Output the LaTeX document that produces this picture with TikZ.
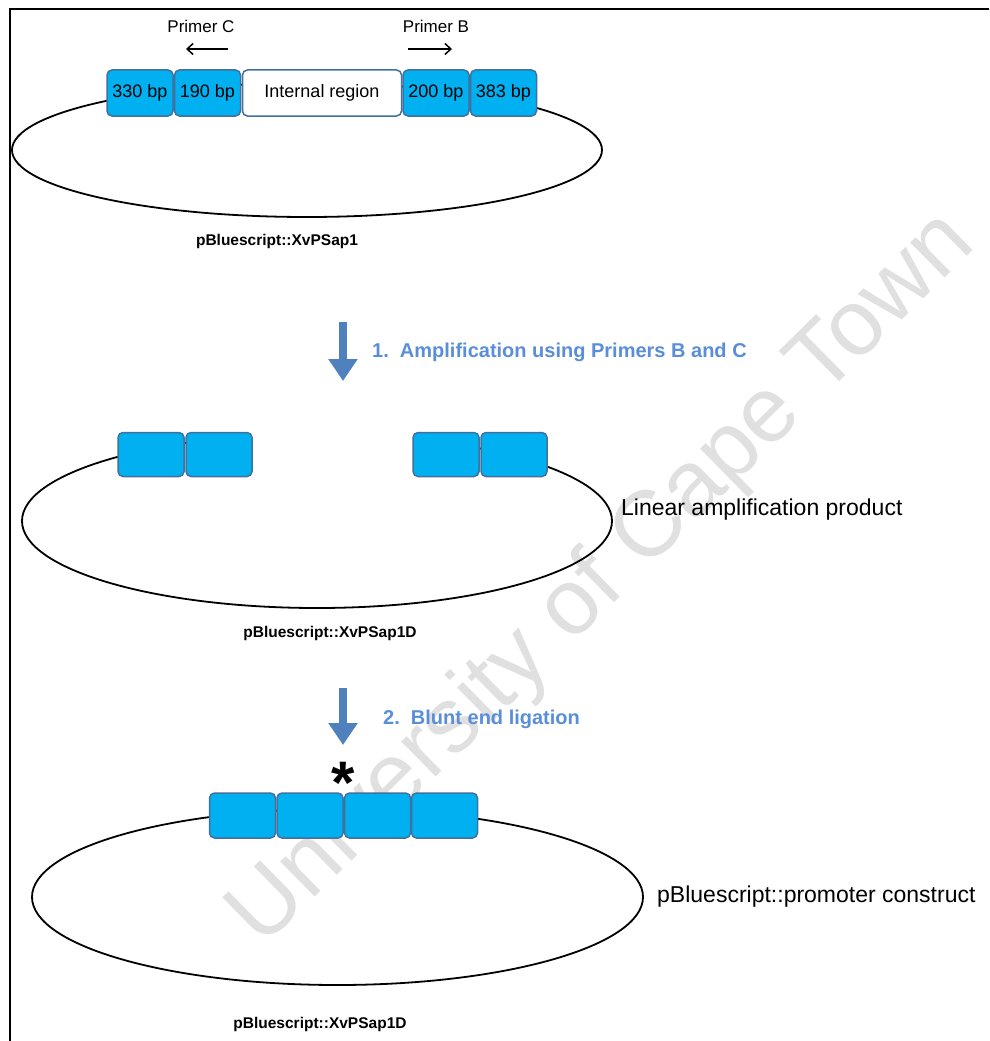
\documentclass[tikz,border=0pt]{standalone}
\usepackage{fontspec}
\setmainfont{Liberation Sans}
\usetikzlibrary{arrows.meta}
\definecolor{segfill}{HTML}{00B0F0}
\definecolor{segline}{HTML}{41719C}
\definecolor{steparrow}{HTML}{4F81BD}
\definecolor{steptext}{HTML}{5A8ED8}
\definecolor{wmark}{HTML}{E0E0E0}
\begin{document}
\begin{tikzpicture}[x=1pt,y=-1pt,
  seg/.style={draw=segline, fill=segfill, line width=1.5pt, rounded corners=5pt,
    minimum width=66pt, minimum height=46pt, inner sep=0pt, font=\fontsize{18}{20}\selectfont},
  segwhite/.style={seg, fill=white},
  plasmid/.style={draw=black, line width=1.8pt},
  plabel/.style={font=\fontsize{15.5}{18}\selectfont\bfseries, inner sep=0pt},
  sidelabel/.style={font=\fontsize{23}{26}\selectfont, anchor=west, inner sep=0pt},
  primerlabel/.style={font=\fontsize{17}{20}\selectfont, inner sep=0pt},
  primerarrow/.style={line width=1.5pt, -{Straight Barb[length=6pt,width=11pt]}},
  stepdown/.style={draw=steparrow, line width=8pt, -{Triangle[width=28pt,length=22pt]}},
  steplabel/.style={text=steptext, font=\fontsize{20}{22}\selectfont\bfseries, anchor=west, inner sep=0pt}
]
\useasboundingbox (0,0) rectangle (989,1041);
\fill[white] (0,0) rectangle (989,1041);

% watermark
\node[rotate=44.5, text=wmark, font=\fontsize{93}{93}\selectfont, inner sep=0pt] (wm) at (603,580) {University of Cape Town};

% frame
\draw[line width=2pt] (10,1041) -- (10,9) -- (989,9);

% ---------- top plasmid ----------
\draw[plasmid] (307,150) ellipse [x radius=295pt, y radius=67pt];
\node[seg] (t1) at (140,93) {330 bp};
\node[seg] (t2) at (207.5,93) {190 bp};
\node[segwhite, minimum width=159pt] (t3) at (322,93) {Internal region};
\node[seg] (t4) at (436,93) {200 bp};
\node[seg] (t5) at (503.5,93) {383 bp};

\node[primerlabel] (pc) at (201,26) {Primer C};
\node[primerlabel] (pb) at (436,26) {Primer B};
\coordinate (pcs) at (228,49);
\coordinate (pce) at (186,49);
\coordinate (pbs) at (408,49);
\coordinate (pbe) at (452,49);
\draw[primerarrow] (pcs) -- (pce);
\draw[primerarrow] (pbs) -- (pbe);

\node[plabel] (l1) at (277,241) {pBluescript::XvPSap1};

% step 1
\coordinate (a1s) at (343,322);
\coordinate (a1e) at (343,381);
\draw[stepdown] (a1s) -- (a1e);
\node[steplabel] (s1) at (372,352) {1.\ \ Amplification\ using\ Primers\ B\ and\ C};

% ---------- middle plasmid ----------
\draw[plasmid] (317,521) ellipse [x radius=295pt, y radius=87pt];
\node[fill=white, minimum width=161pt, minimum height=46pt, inner sep=0pt] (gap) at (332.5,454.5) {};
\node[seg, minimum height=44pt] (m1) at (151,454.5) {};
\node[seg, minimum height=44pt] (m2) at (219,454.5) {};
\node[seg, minimum height=44pt] (m3) at (446,454.5) {};
\node[seg, minimum height=44pt] (m4) at (514,454.5) {};
\node[sidelabel] (lin) at (621,510) {Linear amplification product};
\node[plabel] (l2) at (330,633) {pBluescript::XvPSap1D};

% step 2
\coordinate (a2s) at (343,688);
\coordinate (a2e) at (343,745);
\draw[stepdown] (a2s) -- (a2e);
\node[steplabel] (s2) at (383,719) {2.\ \ Blunt end ligation};

% ---------- bottom plasmid ----------
\draw[plasmid] (337.5,897) ellipse [x radius=305.5pt, y radius=88pt];
\node[seg, minimum height=45pt] (b1) at (242.5,815.5) {};
\node[seg, minimum height=45pt] (b2) at (310,815.5) {};
\node[seg, minimum height=45pt] (b3) at (377.5,815.5) {};
\node[seg, minimum height=45pt] (b4) at (444.5,815.5) {};
\node[font=\fontsize{60}{60}\selectfont\bfseries, anchor=base, inner sep=0pt] (ast) at (343,803) {*};
\node[sidelabel] (prom) at (657,897) {pBluescript::promoter construct};
\node[plabel] (l3) at (320,1024) {pBluescript::XvPSap1D};
\end{tikzpicture}
\end{document}
